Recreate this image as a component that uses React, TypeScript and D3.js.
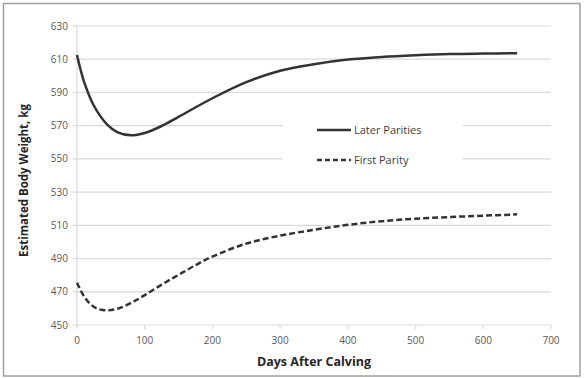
import React from "react";
import * as d3 from "d3";

const laterDays = [0, 10, 25, 45, 60, 80, 100, 125, 150, 200, 250, 300, 350, 400, 450, 500, 550, 600, 650];
const laterWeights = [612.5, 597, 582, 570.5, 566, 564.2, 565.6, 569.8, 575.3, 586.5, 596.2, 603.1, 607, 609.8, 611.4, 612.4, 613.1, 613.4, 613.6];

const firstDays = [0, 10, 20, 30, 45, 60, 80, 100, 125, 150, 175, 200, 250, 300, 350, 400, 450, 500, 550, 600, 650];
const firstWeights = [475.5, 467.5, 462.5, 459.8, 458.8, 459.8, 463.3, 468, 474.3, 480.2, 486, 491.2, 499, 503.8, 507.3, 510.3, 512.5, 514, 515, 515.8, 516.6];

const xTicks = [0, 100, 200, 300, 400, 500, 600, 700];
const yTicks = [450, 470, 490, 510, 530, 550, 570, 590, 610, 630];

const seriesNames = ["Later Parities", "First Parity"];

const W = 585;
const H = 378;
const left = 77;
const right = 551;
const top = 26;
const bottom = 325;

export default function App() {
  const x = d3.scaleLinear().domain([0, 700]).range([left, right]);
  const y = d3.scaleLinear().domain([450, 630]).range([bottom, top]);
  const line = d3
    .line<[number, number]>()
    .x((d) => x(d[0]))
    .y((d) => y(d[1]))
    .curve(d3.curveCatmullRom.alpha(0.5));

  const later = laterDays.map((d, i) => [d, laterWeights[i]] as [number, number]);
  const first = firstDays.map((d, i) => [d, firstWeights[i]] as [number, number]);

  const font = "'Open Sans', 'DejaVu Sans', sans-serif";
  const lineColor = "#333333";
  const gridColor = "#d9d9d9";

  return (
    <svg
      width={W}
      height={H}
      style={{ position: "absolute", left: 0, top: 0, background: "#fff" }}
      fontFamily={font}
    >
      <rect x={0} y={0} width={W} height={H} fill="#fff" />
      <rect x={3.5} y={3.5} width={576.5} height={372.5} fill="#fff" stroke="#a0a0a0" strokeWidth={1.5} />
      {yTicks.map((t) => (
        <line key={"g" + t} x1={left} x2={right} y1={y(t)} y2={y(t)} stroke={gridColor} strokeWidth={1.2} />
      ))}
      <line x1={left} x2={left} y1={top} y2={bottom} stroke={gridColor} strokeWidth={1.2} />
      {yTicks.map((t) => (
        <line key={"yt" + t} x1={left - 4} x2={left} y1={y(t)} y2={y(t)} stroke={gridColor} strokeWidth={1.2} />
      ))}
      {xTicks.map((t) => (
        <line key={"xt" + t} x1={x(t)} x2={x(t)} y1={bottom} y2={bottom + 4} stroke={gridColor} strokeWidth={1.2} />
      ))}
      {yTicks.map((t) => (
        <text key={"yl" + t} x={68} y={y(t)} dy="0.35em" textAnchor="end" fontSize={10} fill="#595959">
          {t}
        </text>
      ))}
      {xTicks.map((t) => (
        <text key={"xl" + t} x={x(t)} y={344} textAnchor="middle" fontSize={10} fill="#595959">
          {t}
        </text>
      ))}
      <text x={(left + right) / 2} y={366} textAnchor="middle" fontSize={12.5} fontWeight="bold" fill="#262626">
        Days After Calving
      </text>
      <text
        transform={`translate(28, ${(top + bottom) / 2 + 5}) rotate(-90)`}
        textAnchor="middle"
        fontSize={11.5}
        fontWeight="bold"
        fill="#262626"
      >
        Estimated Body Weight, kg
      </text>
      <rect x={283} y={115} width={180} height={60} fill="#fff" />
      <path d={line(later) || ""} fill="none" stroke={lineColor} strokeWidth={2.5} />
      <path d={line(first) || ""} fill="none" stroke={lineColor} strokeWidth={2.5} strokeDasharray="6,3" />
      <line x1={317} x2={351} y1={130} y2={130} stroke={lineColor} strokeWidth={2.5} />
      <text x={354} y={130} dy="0.35em" fontSize={11} fill="#404040">
        {seriesNames[0]}
      </text>
      <line x1={317} x2={351} y1={160} y2={160} stroke={lineColor} strokeWidth={2.5} strokeDasharray="5,3" />
      <text x={354} y={160} dy="0.35em" fontSize={11} fill="#404040">
        {seriesNames[1]}
      </text>
    </svg>
  );
}
